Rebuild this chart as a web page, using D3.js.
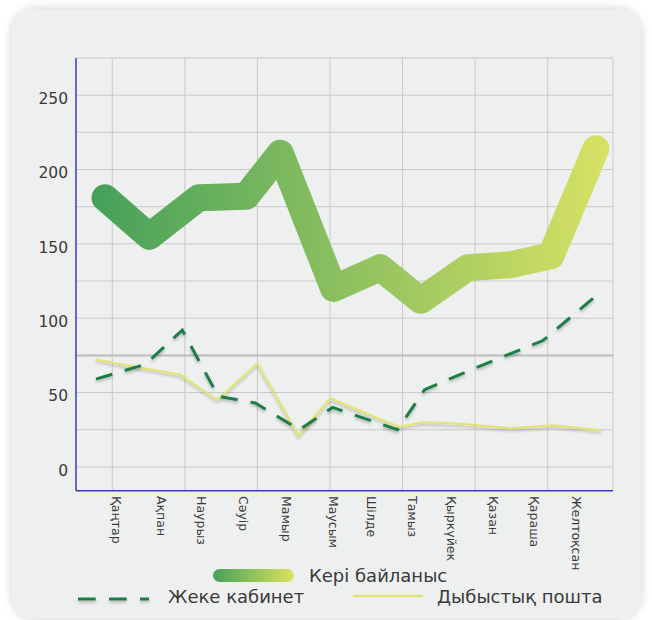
<!DOCTYPE html>
<html>
<head>
<meta charset="utf-8">
<script src="https://cdn.jsdelivr.net/npm/d3@7"></script>
<style>
  body { margin: 0; background: #ffffff; }
  text { font-family: 'DejaVu Sans', sans-serif; fill: #3a3a3a; }
</style>
</head>
<body>
<script>
'use strict'

// month names on the x axis
const months = ['Қаңтар', 'Ақпан', 'Наурыз', 'Сәуір', 'Мамыр', 'Маусым',
  'Шілде', 'Тамыз', 'Қыркүйек', 'Қазан', 'Қараша', 'Желтоқсан']
// where each month label sits on the x scale
const labelX = [1.10, 2.35, 3.45, 4.60, 5.80, 7.08, 8.14, 9.28, 10.35, 11.49, 12.63, 13.80]

// Кері байланыс (thick gradient line)
const feedbackX = [0.80, 2.02, 3.38, 4.69, 5.63, 7.10, 8.39, 9.50, 10.80, 11.98, 13.09, 14.33]
const feedback = [181, 155, 181, 182, 211, 120, 134, 112, 134, 136, 142, 214]

// Жеке кабинет (dashed line)
const cabinetX = [0.55, 1.91, 2.93, 3.92, 4.94, 6.16, 7.07, 8.86, 9.61, 11.15, 12.87, 14.38]
const cabinet = [59, 69, 92, 47.5, 43, 25, 40, 25, 52, 68, 85, 116]

// Дыбыстық пошта (thin yellow line)
const voiceX = [0.55, 2.87, 3.89, 5.00, 6.13, 7.01, 8.89, 9.58, 10.60, 11.98, 13.17, 14.47]
const voice = [72, 62, 45, 69.5, 21, 46, 27, 30, 29, 26, 28, 24.5]

const yTicks = [0, 50, 100, 150, 200, 250]
const yGrid = d3.range(0, 276, 25)
const xGrid = [1, 3, 5, 7, 9, 11, 13]
const refValue = 75

const m = {
  width: 652,
  height: 620,
  left: 76,
  right: 613,
  top: 58,
  bottom: 490.7
}

const svg = d3.select('body')
  .append('svg')
  .attr('width', m.width)
  .attr('height', m.height)

const defs = svg.append('defs')

// soft shadow for the card
const cardShadow = defs.append('filter').attr('id', 'cardShadow')
  .attr('x', '-10%').attr('y', '-10%').attr('width', '120%').attr('height', '120%')
cardShadow.append('feDropShadow')
  .attr('dx', 0).attr('dy', 0).attr('stdDeviation', 5)
  .attr('flood-color', '#000').attr('flood-opacity', 0.2)

// small shadow under the thin lines (user space so flat lines keep it)
const lineShadow = defs.append('filter').attr('id', 'lineShadow')
  .attr('filterUnits', 'userSpaceOnUse')
  .attr('x', 0).attr('y', 0).attr('width', m.width).attr('height', m.height)
lineShadow.append('feDropShadow')
  .attr('dx', 0).attr('dy', 2).attr('stdDeviation', 1.5)
  .attr('flood-color', '#000').attr('flood-opacity', 0.25)

// green -> yellow gradient for the thick line
const grad = defs.append('linearGradient').attr('id', 'mainGrad')
  .attr('gradientUnits', 'userSpaceOnUse')
  .attr('x1', 92).attr('x2', 609).attr('y1', 0).attr('y2', 0)
grad.append('stop').attr('offset', 0).attr('stop-color', '#45a05a')
grad.append('stop').attr('offset', 1).attr('stop-color', '#d8e264')

const legendGrad = defs.append('linearGradient').attr('id', 'legendGrad')
legendGrad.append('stop').attr('offset', 0).attr('stop-color', '#47a058')
legendGrad.append('stop').attr('offset', 1).attr('stop-color', '#dbe35f')

// card background
svg.append('rect')
  .attr('x', 12).attr('y', 9)
  .attr('width', 629).attr('height', 610)
  .attr('rx', 24)
  .style('fill', '#eef0ef')
  .attr('filter', 'url(#cardShadow)')

// scales
const x = d3.scaleLinear().domain([0, 14.8]).range([m.left, m.right])
const y = d3.scaleLinear().domain([-16, 275]).range([m.bottom, m.top])

drawGrid()
drawSeries()
drawAxes()
drawLegend()

// gray grid, top border is the 275 line
function drawGrid() {
  const g = svg.append('g').attr('id', 'grid')
  g.selectAll('.hgrid')
    .data(yGrid)
    .enter().append('line')
    .attr('x1', m.left).attr('x2', m.right)
    .attr('y1', (d) => y(d)).attr('y2', (d) => y(d))
    .style('stroke', '#c9c9c9').style('stroke-width', 1)
  g.selectAll('.vgrid')
    .data(xGrid)
    .enter().append('line')
    .attr('x1', (d) => x(d)).attr('x2', (d) => x(d))
    .attr('y1', m.top).attr('y2', m.bottom)
    .style('stroke', '#c9c9c9').style('stroke-width', 1)
  g.append('line')
    .attr('x1', m.right).attr('x2', m.right)
    .attr('y1', m.top).attr('y2', m.bottom)
    .style('stroke', '#c9c9c9').style('stroke-width', 1)
  // thicker reference line
  g.append('line')
    .attr('x1', m.left).attr('x2', m.right)
    .attr('y1', y(refValue)).attr('y2', y(refValue))
    .style('stroke', '#bcbcbc').style('stroke-width', 2)
}

function drawSeries() {
  const line = d3.line()
    .x((d) => x(d[0]))
    .y((d) => y(d[1]))

  svg.append('path')
    .datum(d3.zip(feedbackX, feedback))
    .attr('d', line)
    .style('fill', 'none')
    .style('stroke', 'url(#mainGrad)')
    .style('stroke-width', 27)
    .style('stroke-linejoin', 'round')
    .style('stroke-linecap', 'round')

  svg.append('path')
    .datum(d3.zip(voiceX, voice))
    .attr('d', line)
    .attr('filter', 'url(#lineShadow)')
    .style('fill', 'none')
    .style('stroke', '#e2e46c')
    .style('stroke-width', 2)

  svg.append('path')
    .datum(d3.zip(cabinetX, cabinet))
    .attr('d', line)
    .attr('filter', 'url(#lineShadow)')
    .style('fill', 'none')
    .style('stroke', '#1f7d45')
    .style('stroke-width', 3)
    .style('stroke-dasharray', '17,13')
}

function drawAxes() {
  // y labels
  svg.selectAll('.ylab')
    .data(yTicks)
    .enter().append('text')
    .attr('x', 68)
    .attr('y', (d) => y(d) + 3.5)
    .attr('dy', '0.35em')
    .attr('text-anchor', 'end')
    .style('font-size', '15.5px')
    .text((d) => d)

  // month labels, rotated
  svg.selectAll('.xlab')
    .data(months)
    .enter().append('text')
    .attr('transform', (d, i) => 'translate(' + x(labelX[i]) + ',496)rotate(90)')
    .attr('dy', '0.35em')
    .style('font-size', '12.5px')
    .text((d) => d)

  // blue axis lines
  svg.append('line')
    .attr('x1', m.left).attr('x2', m.left)
    .attr('y1', m.top).attr('y2', m.bottom)
    .style('stroke', '#3a3ab8').style('stroke-width', 1.5)
  svg.append('line')
    .attr('x1', m.left).attr('x2', m.right)
    .attr('y1', m.bottom).attr('y2', m.bottom)
    .style('stroke', '#3a3ab8').style('stroke-width', 1.5)
}

function drawLegend() {
  svg.append('rect')
    .attr('x', 213).attr('y', 569)
    .attr('width', 81).attr('height', 13)
    .attr('rx', 6.5)
    .style('fill', 'url(#legendGrad)')
  svg.append('text')
    .attr('x', 309).attr('y', 576)
    .attr('dy', '0.35em')
    .style('font-size', '18px')
    .text('Кері байланыс')

  svg.append('line')
    .attr('x1', 78).attr('x2', 149)
    .attr('y1', 599).attr('y2', 599)
    .attr('filter', 'url(#lineShadow)')
    .style('stroke', '#1f7d45')
    .style('stroke-width', 3)
    .style('stroke-dasharray', '17.7,13.3')
  svg.append('text')
    .attr('x', 168).attr('y', 597)
    .attr('dy', '0.35em')
    .style('font-size', '18px')
    .text('Жеке кабинет')

  svg.append('line')
    .attr('x1', 353).attr('x2', 423)
    .attr('y1', 596).attr('y2', 596)
    .style('stroke', '#e2e47a')
    .style('stroke-width', 2.5)
  svg.append('text')
    .attr('x', 437).attr('y', 597)
    .attr('dy', '0.35em')
    .style('font-size', '18px')
    .text('Дыбыстық пошта')
}
</script>
</body>
</html>
